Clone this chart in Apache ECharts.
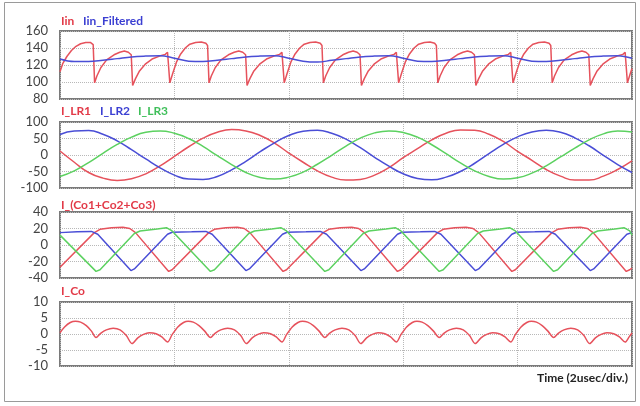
<!DOCTYPE html>
<html>
<head>
<meta charset="utf-8">
<script src="https://cdn.jsdelivr.net/npm/echarts@6/dist/echarts.min.js"></script>
<style>html,body{margin:0;padding:0;background:#fff}#c{width:640px;height:406px}</style>
</head>
<body>
<div id="c"></div>
<script>
// ---------- Panel 1: Iin and Iin_Filtered ----------
const iinT = [0,0.05,0.12,0.2,0.28,0.36,0.45,0.53,0.58,0.605,
0.645,0.715,0.815,0.945,1.045,1.125,1.195,1.245,1.27,
1.32,1.39,1.49,1.61,1.74,1.84,1.88,1.9,1.92,
1.97,2.04,2.11,2.19,2.27,2.37,2.47,2.55,2.58,2.605,
2.645,2.715,2.815,2.945,3.045,3.125,3.195,3.245,3.27,
3.32,3.39,3.49,3.61,3.74,3.84,3.88,3.9,3.92,
3.97,4.04,4.11,4.19,4.27,4.37,4.47,4.55,4.58,4.605,
4.645,4.715,4.815,4.945,5.045,5.125,5.195,5.245,5.27,
5.32,5.39,5.49,5.61,5.74,5.84,5.88,5.9,5.92,
5.97,6.04,6.11,6.19,6.27,6.37,6.47,6.55,6.58,6.605,
6.645,6.715,6.815,6.945,7.045,7.125,7.195,7.245,7.27,
7.32,7.39,7.49,7.61,7.74,7.84,7.88,7.9,7.92,
7.97,8.04,8.11,8.19,8.27,8.37,8.47,8.55,8.58,8.605,
8.645,8.715,8.815,8.945,9.045,9.125,9.195,9.245,9.27,
9.32,9.39,9.49,9.61,9.74,9.84,9.88,9.9,9.92,
9.97,10];
const iinV = [112,122,130,137,142,145,146.5,146.5,144,99,
107,117,126,132,135,136.5,135,132,96,
104,113,121,127,130.5,132.5,135,137,99,
110,124,133,140,144.5,146.5,147,145.5,143,99,
107,117,126,132,135,136.5,135,132,96,
104,113,121,127,130.5,132.5,135,137,99,
110,124,133,140,144.5,146.5,147,145.5,143,99,
107,117,126,132,135,136.5,135,132,96,
104,113,121,127,130.5,132.5,135,137,99,
110,124,133,140,144.5,146.5,147,145.5,143,99,
107,117,126,132,135,136.5,135,132,96,
104,113,121,127,130.5,132.5,135,137,99,
110,124,133,140,144.5,146.5,147,145.5,143,99,
107,117,126,132,135,136.5,135,132,96,
104,113,121,127,130.5,132.5,135,137,99,
110,116];
const filtT = [0,0.25,0.5,0.75,1,1.25,1.5,1.75,2,2.25,2.5,2.75,3,3.25,3.5,3.75,4,4.25,4.5,4.75,5,5.25,5.5,5.75,6,6.25,6.5,6.75,7,7.25,7.5,7.75,8,8.25,8.5,8.75,9,9.25,9.5,9.75,10];
const filtV = [127,124,124,125.5,127.5,129.5,130.5,131,128,124.5,124,125.5,127.5,129.5,130.5,131,128,124.5,123.5,125.5,127.5,129.5,130.5,131,128,124.5,124,125.5,127.5,129.5,130.5,131,128,124.5,124,125.5,127.5,129.5,130.5,131,128];

// ---------- Panel 2: I_LR1, I_LR2, I_LR3 ----------
const lrT = [0,0.25,0.5,0.75,1,1.25,1.5,1.75,2,2.25,2.5,2.75,3,3.25,3.5,3.75,4,4.25,4.5,4.75,5,5.25,5.5,5.75,6,6.25,6.5,6.75,7,7.25,7.5,7.75,8,8.25,8.5,8.75,9,9.25,9.5,9.75,10];
const lr1 = [12,-22,-53,-70,-77,-72,-57,-33,-4,25,51,69,77,73,59,36,6,-22,-48,-67,-76,-74,-61,-38,-8,19,46,66,76,75,63,41,11,-16,-44,-64,-76,-76,-64,-44,-18];
const lr2 = [62,73,74,63,43,16,-12,-39,-61,-73,-74,-65,-45,-19,10,37,59,72,75,66,48,22,-7,-34,-57,-71,-75,-67,-50,-25,4,32,55,70,75,69,52,28,-1,-29,-53];
const lr3 = [-65,-48,-23,5,32,54,69,73,66,50,26,-2,-29,-53,-68,-73,-67,-52,-28,-1,27,51,67,73,68,54,31,4,-24,-48,-65,-73,-69,-55,-33,-6,21,46,64,73,70];

// ---------- Panel 3: I_(Co1+Co2+Co3) ----------
const co1T = [0,0.6,0.7,0.9,1.1,1.22,1.32,1.9,1.96,2.6,2.7,2.9,3.1,3.22,3.32,3.9,3.96,4.6,4.7,4.9,5.1,5.22,5.32,5.9,5.96,6.6,6.7,6.9,7.1,7.22,7.32,7.9,7.96,8.6,8.7,8.9,9.1,9.22,9.32,9.9,9.96,10];
const co1V = [-27,15,19,21,21.5,20,15,-32,-30,15,19,21,21.5,20,15,-32,-30,15,19,21,21.5,20,15,-32,-30,15,19,21,21.5,20,15,-32,-30,15,19,21,21.5,20,15,-32,-30,-28];
const co2T = [0,0.3,0.55,0.66,1.24,1.3,1.88,1.96,2.3,2.55,2.66,3.25,3.31,3.89,3.97,4.3,4.55,4.66,5.26,5.32,5.9,5.98,6.3,6.55,6.66,7.26,7.32,7.9,7.98,8.3,8.55,8.66,9.27,9.33,9.91,10];
const co2V = [15,16,16.5,13,-31,-29,13,15.5,16,16.5,13,-31,-29,13,15.5,16,16.5,13,-31,-29,13,15.5,16,16.5,13,-31,-29,13,15.5,16,16.5,13,-31,-29,13,15];
const co3T = [0,0.63,0.7,1.3,1.4,1.7,1.86,1.96,2.63,2.7,3.3,3.4,3.7,3.86,3.96,4.63,4.7,5.3,5.4,5.7,5.86,5.96,6.63,6.7,7.3,7.4,7.7,7.86,7.96,8.63,8.7,9.3,9.4,9.7,9.86,9.96,10];
const co3V = [12,-32,-30,14,17,19.5,21,17,-32,-30,14,17,19.5,21,17,-32,-30,14,17,19.5,21,17,-32,-30,14,17,19.5,21,17,-32,-30,14,17,19.5,21,17,12];

// ---------- Panel 4: I_Co ----------
const icoT = [0,0.08,0.18,0.27,0.36,0.46,0.55,0.63,
0.71,0.81,0.93,1.05,1.16,1.26,
1.36,1.46,1.56,1.68,1.78,1.88,
1.96,2.06,2.16,2.24,2.33,2.43,2.53,2.63,
2.71,2.81,2.93,3.05,3.16,3.26,
3.36,3.46,3.56,3.68,3.78,3.88,
3.96,4.06,4.16,4.24,4.33,4.43,4.53,4.63,
4.71,4.81,4.93,5.05,5.16,5.26,
5.36,5.46,5.56,5.68,5.78,5.88,
5.96,6.06,6.16,6.24,6.33,6.43,6.53,6.63,
6.71,6.81,6.93,7.05,7.16,7.26,
7.36,7.46,7.56,7.68,7.78,7.88,
7.96,8.06,8.16,8.24,8.33,8.43,8.53,8.63,
8.71,8.81,8.93,9.05,9.16,9.26,
9.36,9.46,9.56,9.68,9.78,9.88,
9.95,10];
const icoV = [0.4,2.2,3.6,4.0,3.7,2.6,0.9,-1.1,
0.2,1.3,1.8,1.3,-0.5,-3.0,
-1.2,-0.1,0.4,0.1,-0.9,-2.5,
-0.2,2.2,3.6,4.0,3.7,2.6,0.9,-1.1,
0.2,1.3,1.8,1.3,-0.5,-3.0,
-1.2,-0.1,0.4,0.1,-0.9,-2.5,
-0.2,2.2,3.6,4.0,3.7,2.6,0.9,-1.1,
0.2,1.3,1.8,1.3,-0.5,-3.0,
-1.2,-0.1,0.4,0.1,-0.9,-2.5,
-0.2,2.2,3.6,4.0,3.7,2.6,0.9,-1.1,
0.2,1.3,1.8,1.3,-0.5,-3.0,
-1.2,-0.1,0.4,0.1,-0.9,-2.5,
-0.2,2.2,3.6,4.0,3.7,2.6,0.9,-1.1,
0.2,1.3,1.8,1.3,-0.5,-3.0,
-1.2,-0.1,0.4,0.1,-0.9,-2.5,
-0.9,0.3];

// ---------- axis ranges / labels ----------
const yRanges = [[80,160,20],[-100,100,50],[-40,40,20],[-10,10,5]];
const panelTitles = [
  [['Iin','#e23a48'],['Iin_Filtered','#3b3fd2']],
  [['I_LR1','#e23a48'],['I_LR2','#3b3fd2'],['I_LR3','#3fbf5a']],
  [['I_(Co1+Co2+Co3)','#e23a48']],
  [['I_Co','#e23a48']]
];
const titleX = [[61,83],[61,100,138],[61],[61]];
const timeLabel = 'Time (2usec/div.)';

const RED = '#e6525c', BLUE = '#4a4ed6', GREEN = '#5cd160';
const gridPos = [{top:31,height:68},{top:122,height:66},{top:212,height:66},{top:302,height:64}];
const titleY = [22,112,206,292];

function zip(t, v){ return t.map((x,i)=>[x, v[i]]); }

const grids = gridPos.map(g => ({left:60, right:8, top:g.top, height:g.height, show:true,
  borderColor:'#7a7a7a', borderWidth:2, backgroundColor:'transparent'}));
const xAxes = gridPos.map((g,i)=>({type:'value', gridIndex:i, min:0, max:10, interval:2,
  axisLabel:{show:false}, axisTick:{show:false}, axisLine:{show:false},
  splitLine:{show:true, lineStyle:{type:'dotted', color:'#b8b8b8', width:1}}}));
const yAxes = yRanges.map((r,i)=>({type:'value', gridIndex:i, min:r[0], max:r[1], interval:r[2],
  axisLabel:{show:true, margin:12, color:'#444', fontSize:13, fontFamily:'Lato'},
  axisTick:{show:false}, axisLine:{show:false},
  splitLine:{show:true, lineStyle:{type:'dotted', color:'#b8b8b8', width:1}}}));

function line(i, data, color, smooth){
  return {type:'line', xAxisIndex:i, yAxisIndex:i, data:data, showSymbol:false, symbol:'none',
    smooth:smooth||false, lineStyle:{width:1.5, color:color}, itemStyle:{color:color}, silent:true};
}
const series = [
  line(0, zip(iinT, iinV), RED),
  line(0, zip(filtT, filtV), BLUE, 0.4),
  line(1, zip(lrT, lr1), RED, 0.5),
  line(1, zip(lrT, lr2), BLUE, 0.5),
  line(1, zip(lrT, lr3), GREEN, 0.5),
  line(2, zip(co1T, co1V), RED),
  line(2, zip(co2T, co2V), BLUE),
  line(2, zip(co3T, co3V), GREEN),
  line(3, zip(icoT, icoV), RED, 0.3)
];

const graphics = [{type:'rect', shape:{x:4.5,y:2.5,width:631,height:399}, style:{fill:'none', stroke:'#9a9a9a', lineWidth:1}, silent:true}];
panelTitles.forEach((row,i)=>{
  row.forEach((item,j)=>{
    graphics.push({type:'text', left:titleX[i][j], top:titleY[i]-7,
      style:{text:item[0], fill:item[1], font:'bold 12px Lato'}});
  });
});
graphics.push({type:'text', right:12, top:372, style:{text:timeLabel, fill:'#222', font:'bold 12px Lato'}});

const chart = echarts.init(document.getElementById('c'), null, {renderer:'canvas'});
chart.setOption({animation:false, grid:grids, xAxis:xAxes, yAxis:yAxes, series:series, graphic:graphics});
</script>
</body>
</html>
